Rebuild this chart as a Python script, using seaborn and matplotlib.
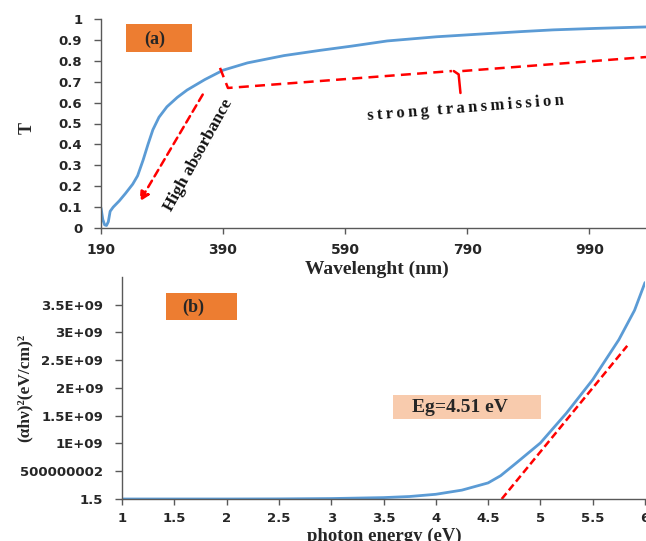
import numpy as np
import pandas as pd
import matplotlib
matplotlib.use("Agg")
import matplotlib.pyplot as plt
import seaborn as sns

# ---- data panel (a) ----
wavelength = [190, 193, 196, 199, 202, 205, 210, 220, 230, 242, 250, 259, 267, 275, 285, 298,
              315, 331, 360, 390, 430, 490, 549, 600, 659, 740, 823, 880, 931, 1000, 1083]
transmittance = [0.096, 0.04, 0.015, 0.012, 0.03, 0.08, 0.10, 0.13, 0.165, 0.21, 0.25, 0.325,
                 0.40, 0.47, 0.53, 0.58, 0.625, 0.66, 0.71, 0.755, 0.79, 0.825, 0.85, 0.87,
                 0.895, 0.915, 0.93, 0.94, 0.948, 0.955, 0.962]
xticks_a = [190, 390, 590, 790, 990]
yticks_a = [0, 0.1, 0.2, 0.3, 0.4, 0.5, 0.6, 0.7, 0.8, 0.9, 1]
yticklabels_a = ["0", "0.1", "0.2", "0.3", "0.4", "0.5", "0.6", "0.7", "0.8", "0.9", "1"]

# ---- data panel (b) ----
energy = [1.0, 1.5, 2.0, 2.5, 3.0, 3.5, 3.75, 4.0, 4.25, 4.5, 4.62, 4.77, 5.0, 5.25, 5.5, 5.75, 5.9, 6.0]
ahv2 = [0.0, 0.0, 0.0, 0.002e9, 0.008e9, 0.025e9, 0.045e9, 0.085e9, 0.16e9, 0.29e9, 0.42e9,
        0.65e9, 1.01e9, 1.55e9, 2.15e9, 2.87e9, 3.4e9, 3.9e9]
tangent_x = [4.63, 5.83]
tangent_y = [0.0, 2.76e9]
xticks_b = [1, 1.5, 2, 2.5, 3, 3.5, 4, 4.5, 5, 5.5, 6]
xticklabels_b = ["1", "1.5", "2", "2.5", "3", "3.5", "4", "4.5", "5", "5.5", "6"]
yticks_b = [1.5, 500000001.5, 1000000001.5, 1500000001.5, 2000000001.5, 2500000001.5,
            3000000001.5, 3500000001.5]
yticklabels_b = ["1.5", "500000002", "1E+09", "1.5E+09", "2E+09", "2.5E+09", "3E+09", "3.5E+09"]

# annotation guides (panel a)
bracket_left_x = [385, 398, 765]
bracket_left_y = [0.766, 0.67, 0.751]
bracket_notch_x = [768, 776, 779]
bracket_notch_y = [0.751, 0.735, 0.646]
bracket_right_x = [782, 1083]
bracket_right_y = [0.751, 0.818]

sns.set_theme(style="white")
plt.rcParams['font.family'] = ['DejaVu Sans']

fig = plt.figure(figsize=(6.46, 5.41), dpi=100)
blue = "#5B9BD5"
red = "#FF0000"
serif = ["Liberation Serif", "DejaVu Serif"]

# ---------- panel (a) ----------
ax1 = fig.add_axes([101/646, 1-228/541, 1-101/646, (228-19)/541])
dfa = pd.DataFrame({"wl": wavelength, "T": transmittance})
sns.lineplot(data=dfa, x="wl", y="T", ax=ax1, color=blue, lw=2.0)
ax1.set_xlim(190, 1083)
ax1.set_ylim(0, 1)
ax1.set_xticks(xticks_a)
ax1.set_xticklabels([str(v) for v in xticks_a])
ax1.set_yticks(yticks_a)
ax1.set_yticklabels(yticklabels_a)

ax1.plot(bracket_left_x, bracket_left_y, color=red, lw=1.8, ls=(0, (4, 2.5)))
ax1.plot(bracket_notch_x, bracket_notch_y, color=red, lw=1.8)
ax1.plot(bracket_right_x, bracket_right_y, color=red, lw=1.8, ls=(0, (4, 2.5)))
ax1.annotate("", xy=(251, 0.115), xytext=(359, 0.65),
             arrowprops=dict(arrowstyle="-|>", color=red, lw=1.8, ls=(0, (3, 2)),
                             mutation_scale=14))
ax1.text(349, 0.35, "High absorbance", rotation=61, ha="center", va="center",
         fontsize=12.5, fontweight="bold", family=serif, color="#111111")
ax1.text(787, 0.574, "s\u2009t\u2009r\u2009o\u2009n\u2009g  t\u2009r\u2009a\u2009n\u2009s\u2009m\u2009i\u2009s\u2009s\u2009i\u2009o\u2009n",
         rotation=4.5, ha="center", va="center", fontsize=12, fontweight="bold",
         family=serif, color="#111111")
fig.text(27/646, 1-128/541, "T", rotation=90, ha="center", va="center", fontsize=13,
         fontweight="bold", family=serif)
fig.text(377/646, 1-269/541, "Wavelenght (nm)", ha="center", va="center", fontsize=14,
         fontweight="bold", family=serif)
ax1.set_xlabel("")
ax1.set_ylabel("")
# orange box (a)
fig.patches.append(plt.Rectangle((126/646, 1-52/541), 66/646, 28/541, transform=fig.transFigure,
                                 facecolor="#ED7D31", edgecolor="none"))
fig.text(155/646, 1-39/541, "(a)", ha="center", va="center", fontsize=13,
         fontweight="bold", family=serif)

# ---------- panel (b) ----------
ax2 = fig.add_axes([122/646, 1-499/541, (645-122)/646, (499-277)/541])
dfb = pd.DataFrame({"E": energy, "A": ahv2})
sns.lineplot(data=dfb, x="E", y="A", ax=ax2, color=blue, lw=2.0)
sns.lineplot(x=tangent_x, y=tangent_y, ax=ax2, color=red, lw=1.8, ls=(0, (3, 1.5)))
ax2.set_xlim(1, 6)
ax2.set_ylim(1.5, 4.0e9)
ax2.set_xticks(xticks_b)
ax2.set_xticklabels(xticklabels_b)
ax2.set_yticks(yticks_b)
ax2.set_yticklabels(yticklabels_b)
ax2.set_xlabel("")
ax2.set_ylabel("")
fig.text(25/646, 1-388/541, "(αhν)²(eV/cm)²", rotation=90, ha="center", va="center",
         fontsize=12.5, fontweight="bold", family=serif)
fig.text(384/646, 1-540.5/541, "photon energy (eV)", ha="center", va="baseline",
         fontsize=13.5, fontweight="bold", family=serif)
fig.patches.append(plt.Rectangle((166/646, 1-320/541), 71/646, 27/541, transform=fig.transFigure,
                                 facecolor="#ED7D31", edgecolor="none"))
fig.text(193/646, 1-307/541, "(b)", ha="center", va="center", fontsize=13,
         fontweight="bold", family=serif)
fig.patches.append(plt.Rectangle((393/646, 1-419/541), 148/646, 24/541, transform=fig.transFigure,
                                 facecolor="#F8CBAD", edgecolor="none"))
fig.text(460/646, 1-407/541, "Eg=4.51 eV", ha="center", va="center", fontsize=14,
         fontweight="bold", family=serif)

for ax in (ax1, ax2):
    for s in ("top", "right"):
        ax.spines[s].set_visible(False)
    for s in ("left", "bottom"):
        ax.spines[s].set_color("#595959")
        ax.spines[s].set_linewidth(1.0)
    ax.tick_params(axis="both", direction="out", width=1, color="#595959",
                   bottom=True, left=True)
    ax.tick_params(axis="y", length=5, pad=8.5, labelsize=9.5)
    for lab in ax.get_xticklabels() + ax.get_yticklabels():
        lab.set_fontweight("bold")
        lab.set_color("#262626")
    ax.grid(False)
    ax.set_facecolor("white")
ax1.tick_params(axis="x", length=4, pad=6.5, labelsize=10)
ax2.tick_params(axis="x", length=4, pad=5.5, labelsize=9.5)

fig.savefig("out.png", dpi=100, facecolor="white")
